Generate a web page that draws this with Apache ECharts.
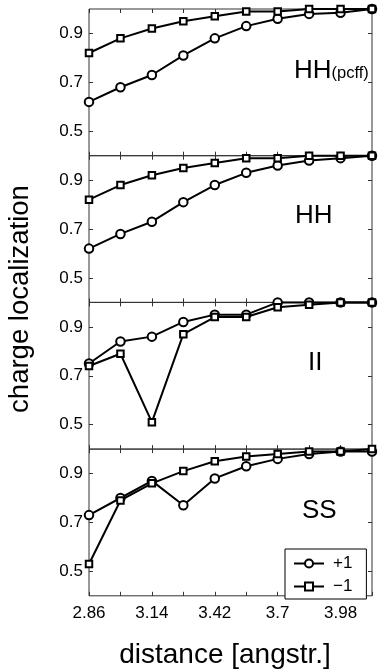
<!DOCTYPE html>
<html>
<head>
<meta charset="utf-8">
<script src="https://cdn.jsdelivr.net/npm/echarts@6/dist/echarts.min.js"></script>
<style>
  html, body { margin: 0; padding: 0; background: #fff; }
  #chart { width: 382px; height: 671px; }
</style>
</head>
<body>
<div id="chart"></div>
<script>
// distances (angstr.)
const distances = [2.86, 3.0, 3.14, 3.28, 3.42, 3.56, 3.7, 3.84, 3.98, 4.12]
const xLabelValues = [2.86, 3.14, 3.42, 3.7, 3.98]
const yTickValues = [0.5, 0.7, 0.9]

// charge localization, +1 (circles) and -1 (squares)
const hhPcffPlus = [0.62, 0.68, 0.73, 0.81, 0.88, 0.93, 0.96, 0.98, 0.985, 1.0]
const hhPcffMinus = [0.82, 0.88, 0.92, 0.95, 0.97, 0.99, 0.99, 1.0, 1.0, 1.0]
const hhPlus = [0.62, 0.68, 0.73, 0.81, 0.88, 0.93, 0.96, 0.98, 0.99, 1.0]
const hhMinus = [0.82, 0.88, 0.92, 0.95, 0.97, 0.99, 0.99, 1.0, 1.0, 1.0]
const iiPlus = [0.75, 0.84, 0.86, 0.92, 0.95, 0.95, 1.0, 1.0, 1.0, 1.0]
const iiMinus = [0.74, 0.79, 0.51, 0.87, 0.94, 0.94, 0.98, 0.99, 1.0, 1.0]
const ssPlus = [0.73, 0.80, 0.87, 0.77, 0.88, 0.93, 0.96, 0.98, 0.99, 0.99]
const ssMinus = [0.53, 0.79, 0.86, 0.91, 0.95, 0.97, 0.98, 0.99, 0.99, 1.0]

const panels = [
  { plus: hhPcffPlus, minus: hhPcffMinus },
  { plus: hhPlus, minus: hhMinus },
  { plus: iiPlus, minus: iiMinus },
  { plus: ssPlus, minus: ssMinus },
]
const legendNames = ['+1', '\u22121']

const FONT = 'Liberation Sans, Arial, Helvetica, sans-serif'
const frameColor = '#333'
const gridLeft = 89
const gridTop = 9
const gridHeight = 146.7

const chart = echarts.init(document.getElementById('chart'))

const grids = []
const xAxes = []
const yAxes = []
const series = []

const tickStyle = { show: true, inside: true, length: 4, lineStyle: { color: frameColor, width: 1 } }

panels.forEach((p, i) => {
  grids.push({
    left: gridLeft,
    right: 10,
    top: gridTop + i * gridHeight,
    height: gridHeight,
    show: true,
    borderColor: frameColor,
    borderWidth: 1,
    backgroundColor: 'transparent',
  })
  const last = i === panels.length - 1
  ;['bottom', 'top'].forEach((pos) => {
    xAxes.push({
      type: 'value',
      gridIndex: i,
      position: pos,
      min: 2.86,
      max: 4.12,
      axisLine: { show: false },
      splitLine: { show: false },
      axisTick: Object.assign({}, tickStyle, { customValues: distances }),
      axisLabel: {
        show: last && pos === 'bottom',
        customValues: xLabelValues,
        color: '#000',
        fontSize: 17,
        fontFamily: FONT,
        margin: 9,
        formatter: (v) => String(+v.toFixed(2)),
      },
    })
  })
  ;['left', 'right'].forEach((pos) => {
    yAxes.push({
      type: 'value',
      gridIndex: i,
      position: pos,
      min: 0.4,
      max: 1.0,
      axisLine: { show: false },
      splitLine: { show: false },
      axisTick: Object.assign({}, tickStyle, { customValues: yTickValues }),
      axisLabel: {
        show: pos === 'left',
        customValues: yTickValues,
        color: '#000',
        fontSize: 17,
        fontFamily: FONT,
        margin: 6,
        formatter: (v) => v.toFixed(1),
      },
    })
  })
  const mk = (vals, name, symbol, size) => ({
    type: 'line',
    name: name,
    xAxisIndex: i * 2,
    yAxisIndex: i * 2,
    data: distances.map((d, k) => [d, vals[k]]),
    symbol: symbol,
    symbolSize: size,
    showSymbol: true,
    clip: false,
    lineStyle: { color: '#000', width: 2 },
    itemStyle: { color: '#fff', borderColor: '#000', borderWidth: 2 },
    emphasis: { disabled: true },
    animation: false,
    z: 3,
  })
  series.push(mk(p.plus, legendNames[0], 'circle', 8.5))
  series.push(mk(p.minus, legendNames[1], 'rect', 6.5))
})

const bigText = { fontSize: 26, fontFamily: FONT, fill: '#000' }

const option = {
  backgroundColor: '#fff',
  animation: false,
  grid: grids,
  xAxis: xAxes,
  yAxis: yAxes,
  series: series,
  legend: {
    data: legendNames,
    left: 285,
    top: 549,
    orient: 'vertical',
    backgroundColor: '#fff',
    borderColor: '#000',
    borderWidth: 1,
    borderRadius: 0,
    padding: [6, 14, 4, 8],
    itemGap: 6,
    itemWidth: 30,
    itemHeight: 10,
    selectedMode: false,
    textStyle: { fontSize: 17, fontFamily: FONT, color: '#000', padding: [0, 0, 0, 4] },
  },
  graphic: [
    {
      type: 'text',
      left: 294,
      top: 58,
      style: {
        text: '{a|HH}{b|(pcff)}',
        rich: {
          a: { fontSize: 26, fontFamily: FONT, fill: '#000' },
          b: { fontSize: 16.5, fontFamily: FONT, fill: '#000', padding: [5, 0, 0, 0] },
        },
      },
    },
    { type: 'text', left: 295, top: 203, style: Object.assign({ text: 'HH' }, bigText) },
    { type: 'text', left: 308, top: 350, style: Object.assign({ text: 'II' }, bigText) },
    { type: 'text', left: 302, top: 498, style: Object.assign({ text: 'SS' }, bigText) },
    {
      type: 'text',
      x: 20,
      y: 299,
      rotation: Math.PI / 2,
      style: {
        text: 'charge localization',
        fontSize: 27.5,
        fontFamily: FONT,
        fill: '#000',
        align: 'center',
        verticalAlign: 'middle',
      },
    },
    {
      type: 'text',
      x: 225,
      y: 655,
      style: {
        text: 'distance [angstr.]',
        fontSize: 28,
        fontFamily: FONT,
        fill: '#000',
        align: 'center',
        verticalAlign: 'middle',
      },
    },
  ],
}

chart.setOption(option)
</script>
</body>
</html>
